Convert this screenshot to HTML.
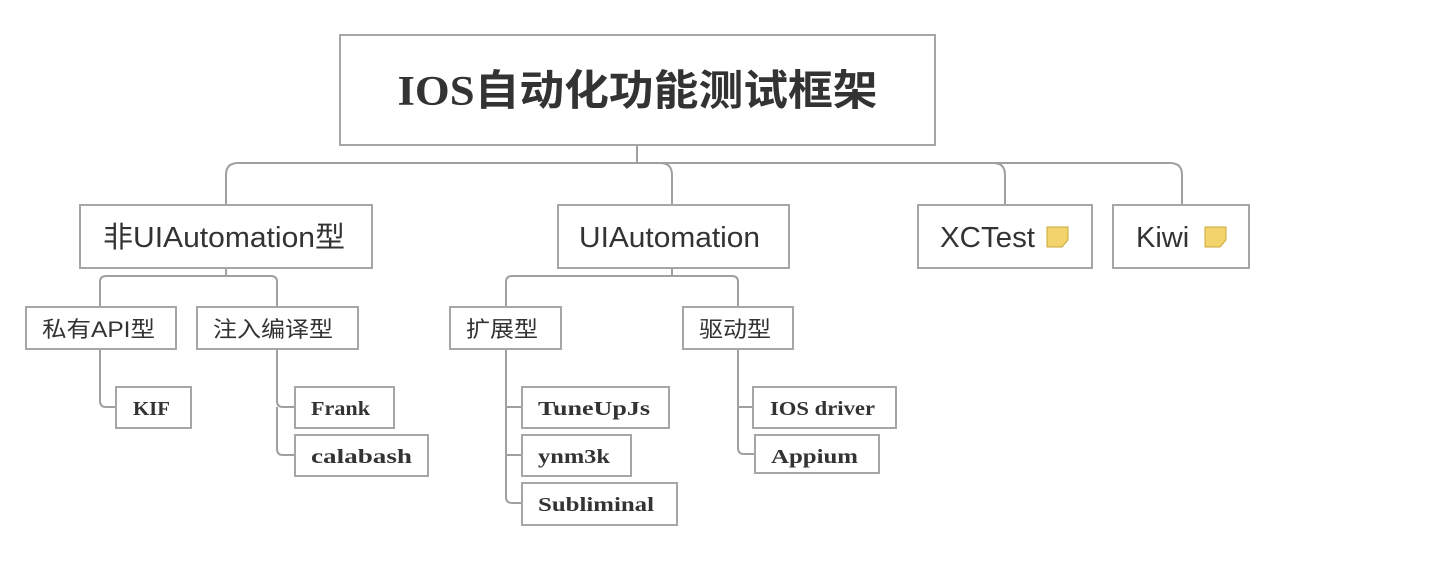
<!DOCTYPE html>
<html><head><meta charset="utf-8"><style>
html,body{margin:0;padding:0;background:#fff;width:1438px;height:570px;overflow:hidden}
svg{display:block}
.b{fill:#fff;stroke:#a6a6a6;stroke-width:2}
.l{fill:none;stroke:#a0a0a0;stroke-width:2}
.s{font-family:"Liberation Sans","Noto Sans CJK SC",sans-serif;fill:#333}
.r{font-family:"Liberation Serif","Noto Sans CJK SC",serif;fill:#333;font-weight:bold}
</style></head><body>
<svg width="1438" height="570" viewBox="0 0 1438 570">
<path class="l" d="M637 145 V163"/>
<path class="l" d="M226 205 V175 Q226 163 238 163 H660 Q672 163 672 175 V205"/>
<path class="l" d="M660 163 H993 Q1005 163 1005 175 V205"/>
<path class="l" d="M993 163 H1170 Q1182 163 1182 175 V205"/>
<path class="l" d="M226 268 V276"/>
<path class="l" d="M100 307 V282 Q100 276 106 276 H271 Q277 276 277 282 V307"/>
<path class="l" d="M672 268 V276"/>
<path class="l" d="M506 307 V282 Q506 276 512 276 H732 Q738 276 738 282 V307"/>
<path class="l" d="M100 349 V401 Q100 407 106 407 H116"/>
<path class="l" d="M277 349 V401 Q277 407 283 407 H295"/>
<path class="l" d="M277 407 V449 Q277 455 283 455 H295"/>
<path class="l" d="M506 349 V407 H522"/>
<path class="l" d="M506 407 V455 H522"/>
<path class="l" d="M506 455 V497 Q506 503 512 503 H522"/>
<path class="l" d="M738 349 V407 H753"/>
<path class="l" d="M738 407 V448 Q738 454 744 454 H755"/>
<rect class="b" x="340" y="35" width="595" height="110"/>
<text class="r" x="637.5" y="105" font-size="42" text-anchor="middle" textLength="480" lengthAdjust="spacingAndGlyphs">IOS自动化功能测试框架</text>
<rect class="b" x="80" y="205" width="292" height="63"/>
<text class="s" x="103" y="247" font-size="29" textLength="242" lengthAdjust="spacingAndGlyphs">非UIAutomation型</text>
<rect class="b" x="558" y="205" width="231" height="63"/>
<text class="s" x="579" y="247" font-size="29" textLength="181" lengthAdjust="spacingAndGlyphs">UIAutomation</text>
<rect class="b" x="918" y="205" width="174" height="63"/>
<text class="s" x="940" y="247" font-size="29" textLength="95" lengthAdjust="spacingAndGlyphs">XCTest</text>
<path d="M1047 227 H1068 V240 L1062 247 H1047 Z" fill="#f3d36b" stroke="#c9a93a" stroke-width="1"/>
<rect class="b" x="1113" y="205" width="136" height="63"/>
<text class="s" x="1136" y="247" font-size="29">Kiwi</text>
<path d="M1205 227 H1226 V240 L1220 247 H1205 Z" fill="#f3d36b" stroke="#c9a93a" stroke-width="1"/>
<rect class="b" x="26" y="307" width="150" height="42"/>
<text class="s" x="42" y="337" font-size="22" textLength="113" lengthAdjust="spacingAndGlyphs">私有API型</text>
<rect class="b" x="197" y="307" width="161" height="42"/>
<text class="s" x="213" y="337" font-size="22" textLength="120" lengthAdjust="spacingAndGlyphs">注入编译型</text>
<rect class="b" x="450" y="307" width="111" height="42"/>
<text class="s" x="466" y="337" font-size="22" textLength="72" lengthAdjust="spacingAndGlyphs">扩展型</text>
<rect class="b" x="683" y="307" width="110" height="42"/>
<text class="s" x="699" y="337" font-size="22" textLength="72" lengthAdjust="spacingAndGlyphs">驱动型</text>
<rect class="b" x="116" y="387" width="75" height="41"/>
<text class="r" x="133" y="415" font-size="20" textLength="37" lengthAdjust="spacingAndGlyphs">KIF</text>
<rect class="b" x="295" y="387" width="99" height="41"/>
<text class="r" x="311" y="415" font-size="20" textLength="59" lengthAdjust="spacingAndGlyphs">Frank</text>
<rect class="b" x="295" y="435" width="133" height="41"/>
<text class="r" x="311" y="463" font-size="20" textLength="101" lengthAdjust="spacingAndGlyphs">calabash</text>
<rect class="b" x="522" y="387" width="147" height="41"/>
<text class="r" x="538" y="415" font-size="20" textLength="112" lengthAdjust="spacingAndGlyphs">TuneUpJs</text>
<rect class="b" x="522" y="435" width="109" height="41"/>
<text class="r" x="538" y="463" font-size="20" textLength="72" lengthAdjust="spacingAndGlyphs">ynm3k</text>
<rect class="b" x="522" y="483" width="155" height="42"/>
<text class="r" x="538" y="511" font-size="20" textLength="116" lengthAdjust="spacingAndGlyphs">Subliminal</text>
<rect class="b" x="753" y="387" width="143" height="41"/>
<text class="r" x="770" y="415" font-size="20" textLength="105" lengthAdjust="spacingAndGlyphs">IOS driver</text>
<rect class="b" x="755" y="435" width="124" height="38"/>
<text class="r" x="771" y="463" font-size="20" textLength="87" lengthAdjust="spacingAndGlyphs">Appium</text>
</svg>
</body></html>
